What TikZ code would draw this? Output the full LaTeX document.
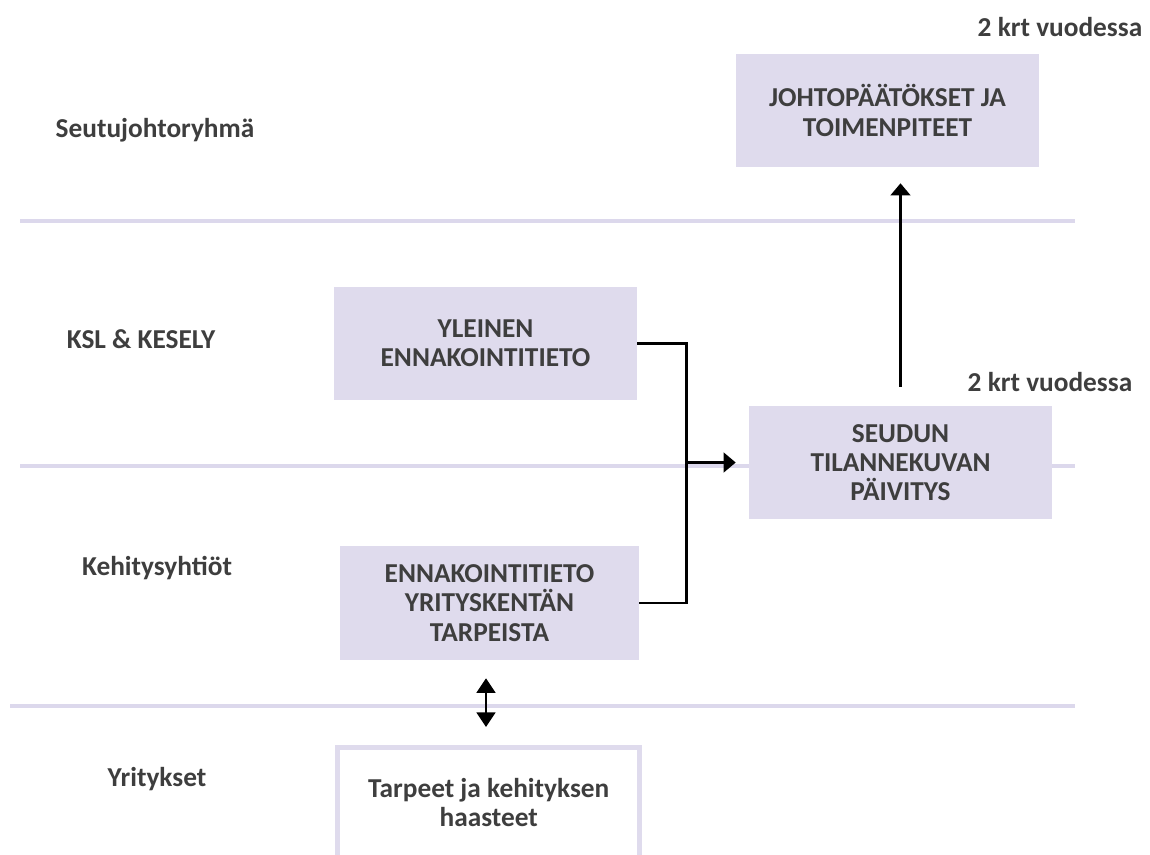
\documentclass[tikz,border=0pt]{standalone}
\usepackage{fontspec}
\setmainfont{Carlito}
\usetikzlibrary{arrows.meta}
\definecolor{lav}{RGB}{223,219,237}
\definecolor{lavline}{RGB}{220,216,236}
\definecolor{txt}{RGB}{62,62,62}
\begin{document}
\begin{tikzpicture}[x=0.75pt,y=-0.75pt,
  every node/.style={font=\fontsize{20.5pt}{22pt}\selectfont\bfseries, text=txt, inner sep=0pt},
  box/.style={fill=lav, minimum width=303*0.75pt, minimum height=113*0.75pt, align=center},
  lane/.style={draw=lavline, line width=2.3pt},
  conn/.style={draw=black, line width=2.2pt},
  head/.tip={Triangle[width=14.5pt,length=9pt]},
  bighead/.tip={Triangle[width=14pt,length=11pt]},
  tip/.style={-head}]
\useasboundingbox (0,0) rectangle (1150,854);

% lane separators
\draw[lane] (20,221) -- (1075,221);
\draw[lane] (20,466) -- (1075,466);
\draw[lane] (10,706) -- (1075,706);

% lane titles
\node (l1) at (155,130) {Seutujohtoryhmä};
\node (l2) at (141,339) {KSL \& KESELY};
\node (l3) at (157,568) {Kehitysyhtiöt};
\node (l4) at (157,779) {Yritykset};

\node (f1) at (1060,27) {2 krt vuodessa};
\node (f2) at (1050,382) {2 krt vuodessa};

% process boxes
\node[box] (joh) at (887.5,110.5) {JOHTOPÄÄTÖKSET JA\\TOIMENPITEET};
\node[box] (yle) at (485.5,343.5) {YLEINEN\\ENNAKOINTITIETO};
\node[box] (seu) at (900.5,462.5) {SEUDUN\\TILANNEKUVAN\\PÄIVITYS};
\node[box, minimum width=299*0.75pt, minimum height=114*0.75pt] (enn) at (489.5,603) {ENNAKOINTITIETO\\YRITYSKENTÄN\\TARPEISTA};
\node[draw=lav, line width=3.8pt, minimum width=302*0.75pt, minimum height=110*0.75pt, align=center] (tar) at (488.75,802.5) {Tarpeet ja kehityksen\\haasteet};

% connectors
\draw[conn] (yle.east) -- ++(49,0) coordinate (j1) |- (enn.east);
\coordinate (jm) at (j1 |- seu.west);
\draw[conn, tip, shorten >=13*0.75pt] (jm) -- (seu.west);
\draw[conn, tip, shorten <=19*0.75pt, shorten >=16*0.75pt] (seu.north) -- (seu.north |- joh.south);
\draw[conn, bighead-bighead, shorten <=18*0.75pt, shorten >=18*0.75pt]
  ([xshift=-3.5*0.75pt]enn.south) -- ([xshift=-3.5*0.75pt]enn.south |- tar.north);
\end{tikzpicture}
\end{document}
